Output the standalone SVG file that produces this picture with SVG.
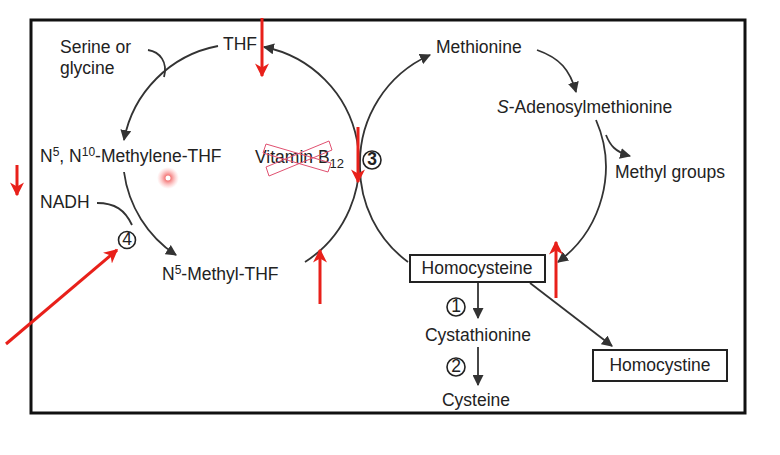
<svg xmlns="http://www.w3.org/2000/svg" width="780" height="455" viewBox="0 0 780 455">
<defs>
<marker id="a" viewBox="0 0 10 10" refX="9" refY="5" markerWidth="11" markerHeight="11" orient="auto-start-reverse" markerUnits="userSpaceOnUse"><path d="M0,0L10,5L0,10z" fill="#333"/></marker>
<marker id="r" viewBox="0 0 10 10" refX="9" refY="5" markerWidth="14" markerHeight="14" orient="auto" markerUnits="userSpaceOnUse"><path d="M0,0L10,5L0,10L3,5z" fill="#e8201a"/></marker>
<radialGradient id="g"><stop offset="0" stop-color="#e33" stop-opacity="0.9"/><stop offset="0.3" stop-color="#e33" stop-opacity="0.6"/><stop offset="1" stop-color="#f88" stop-opacity="0"/></radialGradient>
<style>
text{font-family:"Liberation Sans",Arial,sans-serif;font-size:17.5px;fill:#222}
.c{fill:none;stroke:#333;stroke-width:1.8}
.red{stroke:#e8201a;stroke-width:3;fill:none}
.box{fill:#fff;stroke:#222;stroke-width:2}
.n{text-anchor:middle}
.cir{fill:#fff;stroke:#222;stroke-width:1.6}
</style>
</defs>
<rect x="31" y="20" width="714" height="393" fill="#fff" stroke="#111" stroke-width="3"/>
<g id="connectors">
<path class="c" d="M218,46 A118,118 0 0 0 124,140" marker-end="url(#a)"/>
<path class="c" d="M124,172 A118,118 0 0 0 176,255" marker-end="url(#a)"/>
<path class="c" d="M305,262 A118,118 0 0 0 264,47" marker-end="url(#a)"/>
<path class="c" d="M148,50 C160,52 168,62 164,77"/>
<path class="c" d="M97,203 C115,203 125,210 132,225"/>
<path class="c" d="M408,262 A118,118 0 0 1 360,165 A118,118 0 0 1 430,55" marker-end="url(#a)"/>
<path class="c" d="M537,50 C560,58 570,70 576,92" marker-end="url(#a)"/>
<path class="c" d="M596,120 A118,118 0 0 1 558,262" marker-end="url(#a)"/>
<path class="c" d="M606,135 C610,145 615,152 630,156" marker-end="url(#a)"/>
<path class="c" d="M478,283 V318" marker-end="url(#a)"/>
<path class="c" d="M478,347 V385" marker-end="url(#a)"/>
<path class="c" d="M530,283 L612,346" marker-end="url(#a)"/>
</g>
<g id="thf"><text x="240" y="50" text-anchor="middle">THF</text></g>
<g id="serine"><text x="60" y="53">Serine or</text><text x="60" y="74">glycine</text></g>
<g id="methylene"><text x="40" y="162">N<tspan font-size="12" dy="-6">5</tspan><tspan dy="6">, N</tspan><tspan font-size="12" dy="-6">10</tspan><tspan dy="6">-Methylene-THF</tspan></text></g>
<g id="nadh"><text x="40" y="208">NADH</text></g>
<g id="methylthf"><text x="162" y="280">N<tspan font-size="12" dy="-6">5</tspan><tspan dy="6">-Methyl-THF</tspan></text></g>
<g id="n4"><circle class="cir" cx="127" cy="240" r="8.5"/><text class="n" x="127" y="245" font-size="13">4</text></g>
<g id="vitb12"><text x="255" y="163">Vitamin B<tspan font-size="13" dy="5">12</tspan></text>
<g fill="none" stroke="#e05070" stroke-width="1"><path d="M266,144 L331,163 L328,172 L263,153z"/><path d="M266,167 L329,141 L332,150 L269,176z"/></g></g>
<g id="n3"><circle class="cir" cx="372" cy="160" r="9"/><text class="n" x="372" y="165" font-size="14" font-weight="bold">3</text></g>
<g id="methionine"><text x="436" y="53">Methionine</text></g>
<g id="sam"><text x="497" y="113"><tspan font-style="italic">S</tspan>-Adenosylmethionine</text></g>
<g id="methyl"><text x="615" y="178">Methyl groups</text></g>
<g id="homocysteine"><rect class="box" x="410" y="255" width="135" height="27"/><text x="477" y="274" text-anchor="middle">Homocysteine</text></g>
<g id="n1"><circle class="cir" cx="456" cy="307" r="9"/><text class="n" x="456" y="312" font-size="14">1</text></g>
<g id="cystathionine"><text x="478" y="341" text-anchor="middle">Cystathionine</text></g>
<g id="n2"><circle class="cir" cx="456" cy="367" r="9"/><text class="n" x="456" y="372" font-size="14">2</text></g>
<g id="cysteine"><text x="476" y="406" text-anchor="middle">Cysteine</text></g>
<g id="homocystine"><rect class="box" x="593" y="350" width="134" height="31"/><text x="660" y="371" text-anchor="middle">Homocystine</text></g>
<g id="annotations">
<circle cx="168" cy="178" r="11" fill="url(#g)"/>
<circle cx="168" cy="178" r="2.5" fill="#fff"/>
<path class="red" d="M262,18 V76" marker-end="url(#r)"/>
<path class="red" d="M17,165 V195" marker-end="url(#r)"/>
<path class="red" d="M358,127 V182" marker-end="url(#r)"/>
<path class="red" d="M320,304 V250" marker-end="url(#r)"/>
<path class="red" d="M556,298 V242" marker-end="url(#r)"/>
<path class="red" d="M6,344 L117,250" marker-end="url(#r)"/>
</g>
</svg>
